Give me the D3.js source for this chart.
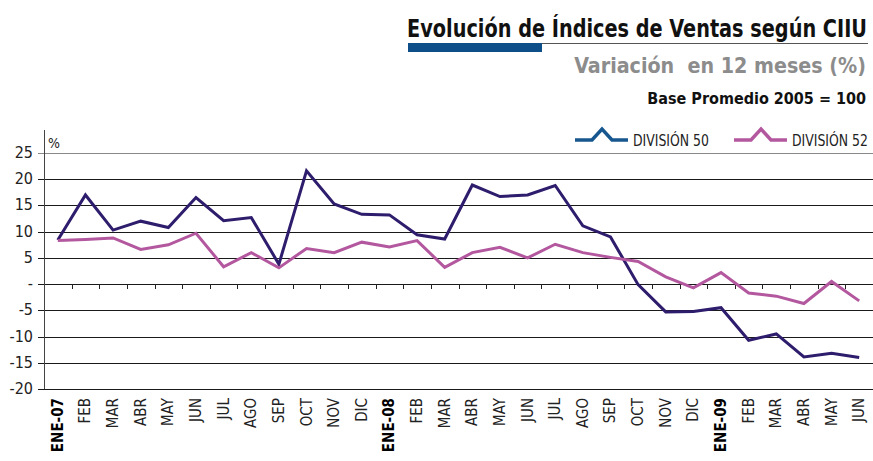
<!DOCTYPE html>
<html lang="es">
<head>
<meta charset="UTF-8">
<title>Evolución de Índices de Ventas según CIIU</title>
<style>
  body { margin: 0; background: #fff; }
  text { font-family: "Liberation Sans Narrow", "DejaVu Sans Condensed", "Roboto Condensed", sans-serif; }
</style>
</head>
<body>
<script src="https://d3js.org/d3.v7.min.js"></script>
<script>
// datos
var meses = ["ENE-07","FEB","MAR","ABR","MAY","JUN","JUL","AGO","SEP","OCT","NOV","DIC",
             "ENE-08","FEB","MAR","ABR","MAY","JUN","JUL","AGO","SEP","OCT","NOV","DIC",
             "ENE-09","FEB","MAR","ABR","MAY","JUN"];
var div50 = [8.4,17.0,10.3,12.0,10.8,16.5,12.1,12.7,3.8,21.6,15.3,13.3,
             13.2,9.4,8.6,18.9,16.7,17.0,18.8,11.1,9.0,-0.1,-5.3,-5.2,
             -4.5,-10.7,-9.5,-13.9,-13.2,-14.0];
var div52 = [8.3,8.5,8.8,6.6,7.5,9.7,3.3,6.0,3.1,6.8,6.0,8.0,
             7.1,8.3,3.2,6.0,7.0,5.0,7.6,6.0,5.1,4.3,1.4,-0.7,
             2.2,-1.7,-2.3,-3.7,0.5,-3.2];
var yTicks = [25,20,15,10,5,0,-5,-10,-15,-20];
var series = [
  {name: "DIVISIÓN 50", values: div50, color: "#2e1c6c", legendColor: "#17578f"},
  {name: "DIVISIÓN 52", values: div52, color: "#b3589f", legendColor: "#b3589f"}
];

var W = 873, H = 461;
var svg = d3.select("body").append("svg").attr("width", W).attr("height", H);

// texto comprimido horizontalmente hasta un ancho dado
function narrowText(sel, x0, y0, width, anchor) {
  var w = sel.node().getComputedTextLength();
  var k = Math.min(1, width / w);
  sel.attr("text-anchor", anchor)
    .attr("transform", "translate(" + x0 + "," + y0 + ") scale(" + k + ",1)");
}

// titulos
narrowText(svg.append("text")
  .attr("font-size", 24).attr("font-weight", "bold").attr("fill", "#111")
  .text("Evolución de Índices de Ventas según CIIU"), 867, 37, 460, "end");
svg.append("line").attr("x1", 408).attr("x2", 868).attr("y1", 43.5).attr("y2", 43.5)
  .attr("stroke", "#555").attr("stroke-width", 1);
svg.append("rect").attr("x", 408).attr("y", 43).attr("width", 134).attr("height", 9)
  .attr("fill", "#0e4f8a");
narrowText(svg.append("text")
  .attr("font-size", 22).attr("font-weight", "bold").attr("fill", "#8c8c8c")
  .attr("xml:space", "preserve")
  .text("Variación  en 12 meses (%)"), 866, 73, 292, "end");
narrowText(svg.append("text")
  .attr("font-size", 16).attr("font-weight", "bold").attr("fill", "#111")
  .text("Base Promedio 2005 = 100"), 866, 104, 219, "end");

// escalas
var x = d3.scaleBand().domain(d3.range(meses.length)).range([44, 873]);
var y = d3.scaleLinear().domain([-20, 25]).range([389, 153]);

// rejilla
svg.selectAll(".grid").data(yTicks).enter().append("line")
  .attr("class", "grid")
  .attr("x1", 38).attr("x2", 873)
  .attr("y1", function(d){ return Math.round(y(d)) + 0.5; })
  .attr("y2", function(d){ return Math.round(y(d)) + 0.5; })
  .attr("stroke", function(d){ return d == 25 ? "#888" : "#1a1a1a"; })
  .attr("stroke-width", 1);

svg.selectAll(".ylab").data(yTicks).enter().append("text")
  .attr("class", "ylab")
  .attr("x", 33).attr("y", function(d){ return y(d) + 5; })
  .attr("text-anchor", "end").attr("font-size", 16).attr("fill", "#222")
  .text(function(d){ return d == 0 ? "-" : d; });

// eje y
svg.append("line").attr("x1", 44.5).attr("x2", 44.5).attr("y1", 130).attr("y2", 389)
  .attr("stroke", "#444").attr("stroke-width", 1);
svg.append("text").attr("x", 48).attr("y", 148).attr("font-size", 14).attr("fill", "#222").text("%");

// marcas en el eje cero
svg.selectAll(".xtick").data(d3.range(1, meses.length)).enter().append("line")
  .attr("class", "xtick")
  .attr("x1", function(d){ return Math.round(x(d)) + 0.5; })
  .attr("x2", function(d){ return Math.round(x(d)) + 0.5; })
  .attr("y1", Math.round(y(0))).attr("y2", Math.round(y(0)) + 5)
  .attr("stroke", "#222");

// etiquetas x
svg.selectAll(".xlab").data(meses).enter().append("text")
  .attr("class", "xlab")
  .attr("transform", function(d, i){
    return "translate(" + (x(i) + x.bandwidth() / 2 + 5) + ",398) rotate(-90)";
  })
  .attr("text-anchor", "end").attr("font-size", 15)
  .attr("font-weight", function(d){ return d.indexOf("ENE") == 0 ? "bold" : "normal"; })
  .attr("fill", function(d){ return d.indexOf("ENE") == 0 ? "#000" : "#222"; })
  .text(function(d){ return d; });

// lineas
var line = d3.line()
  .x(function(d, i){ return x(i) + x.bandwidth() / 2; })
  .y(function(d){ return y(d); });

svg.selectAll(".serie").data(series).enter().append("path")
  .attr("class", "serie")
  .attr("d", function(s){ return line(s.values); })
  .attr("fill", "none")
  .attr("stroke", function(s){ return s.color; })
  .attr("stroke-width", 3)
  .attr("stroke-linejoin", "miter");

// leyenda
var legX = [575, 734];
series.forEach(function(s, i){
  var g = svg.append("g").attr("class", "leg")
    .attr("transform", "translate(" + legX[i] + ",0)");
  g.append("path")
    .attr("d", "M0,140 L17,140 L27,129 L37,140 L53,140")
    .attr("fill", "none")
    .attr("stroke", s.legendColor)
    .attr("stroke-width", 3.5);
  narrowText(g.append("text").attr("font-size", 16).attr("fill", "#222").text(s.name),
    58, 146, 76, "start");
});
</script>
</body>
</html>
